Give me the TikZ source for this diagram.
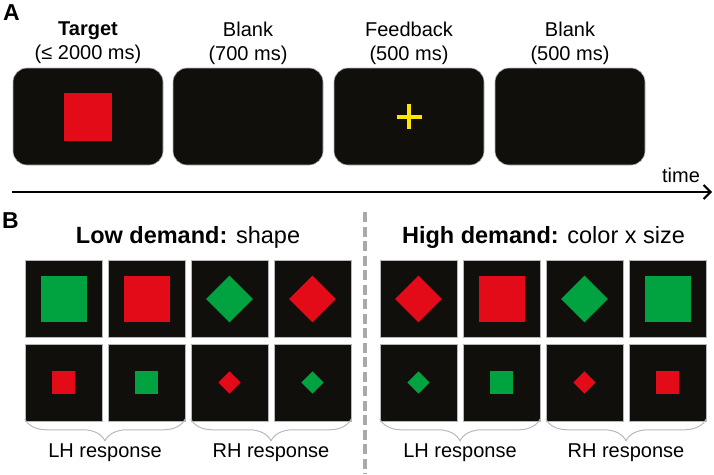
\documentclass[tikz,border=0pt]{standalone}
\usepackage{fontspec}
\setmainfont{Liberation Sans}
\usetikzlibrary{decorations.pathreplacing,arrows.meta}
\definecolor{scr}{HTML}{110F0C}
\definecolor{rd}{HTML}{E30B17}
\definecolor{gn}{HTML}{00A33F}
\definecolor{yl}{HTML}{FFE600}
\definecolor{edge}{HTML}{B8B8B8}
\definecolor{dsh}{HTML}{A9A9A9}
\tikzset{
  screen/.style={draw=edge, line width=0.6pt, fill=scr, rounded corners=14pt, minimum width=150pt, minimum height=97pt, inner sep=0pt},
  cell/.style={draw=edge, line width=0.6pt, fill=scr, minimum size=77pt, inner sep=0pt},
  bigsq/.style={minimum size=46pt, inner sep=0pt},
  smsq/.style={minimum size=23pt, inner sep=0pt},
  bigdia/.style={minimum size=33pt, inner sep=0pt, rotate=45},
  smdia/.style={minimum size=15.6pt, inner sep=0pt, rotate=45},
  lbl/.style={font=\fontsize{20}{24}\selectfont, align=center},
  panel/.style={font=\fontsize{23}{27}\selectfont\bfseries},
  ttl/.style={font=\fontsize{23.5}{27}\selectfont},
  brc/.style={draw=edge, line width=1pt, decorate, decoration={brace, mirror, amplitude=22pt}},
}
\begin{document}
\begin{tikzpicture}[x=1pt,y=-1pt]
\useasboundingbox (0,0) rectangle (714,474);
% Panel A
\node[panel] (A) at (11.5,12.5) {A};
\node[screen] (s1) at (88,116.5) {};
\node[screen] (s2) at (248,116.5) {};
\node[screen] (s3) at (409,116.5) {};
\node[screen] (s4) at (570,116.5) {};
\node[fill=rd, minimum size=48pt, inner sep=0pt] (tgt) at (s1.center) {};
\node[lbl] (l1) at (88,43) {\textbf{Target}\\(≤ 2000 ms)};
\node[lbl] (l2) at (248,43) {Blank\\(700 ms)};
\node[lbl] (l3) at (409,43) {Feedback\\(500 ms)};
\node[lbl] (l4) at (570,43) {Blank\\(500 ms)};
\draw[yl, line width=4pt] ([xshift=-12.5pt]s3.center) -- ([xshift=12.5pt]s3.center);
\draw[yl, line width=4pt] ([yshift=-12.5pt]s3.center) -- ([yshift=12.5pt]s3.center);
\coordinate (t0) at (12,192);
\coordinate (t1) at (712,192);
\draw[line width=2pt, -{Straight Barb[length=7pt,width=14pt,line width=2pt]}] (t0) -- (t1);
\node[font=\fontsize{20}{24}\selectfont] (time) at (681,175) {time};
% Panel B
\node[panel] (B) at (10.5,220.5) {B};
\node[ttl] (tl) at (188,237) {\textbf{Low demand:} shape};
\node[ttl] (th) at (543.5,237) {\textbf{High demand:} color x size};
\coordinate (d0) at (365,212);
\coordinate (d1) at (365,474);
\draw[dsh, line width=4pt, dash pattern=on 10pt off 4.5pt] (d0) -- (d1);
% left grid
\foreach \i/\x in {1/63.5,2/146.5,3/229.5,4/312.5} {
  \node[cell] (L\i) at (\x,299) {};
  \node[cell] (LL\i) at (\x,382.5) {};
}
\node[bigsq, fill=gn] at (L1.center) {};
\node[bigsq, fill=rd] at (L2.center) {};
\node[bigdia, fill=gn] at (L3.center) {};
\node[bigdia, fill=rd] at (L4.center) {};
\node[smsq, fill=rd] at (LL1.center) {};
\node[smsq, fill=gn] at (LL2.center) {};
\node[smdia, fill=rd] at (LL3.center) {};
\node[smdia, fill=gn] at (LL4.center) {};
% right grid
\foreach \i/\x in {1/418.5,2/501.5,3/584.5,4/667.5} {
  \node[cell] (R\i) at (\x,299) {};
  \node[cell] (RR\i) at (\x,382.5) {};
}
\node[bigdia, fill=rd] at (R1.center) {};
\node[bigsq, fill=rd] at (R2.center) {};
\node[bigdia, fill=gn] at (R3.center) {};
\node[bigsq, fill=gn] at (R4.center) {};
\node[smdia, fill=gn] at (RR1.center) {};
\node[smsq, fill=gn] at (RR2.center) {};
\node[smdia, fill=rd] at (RR3.center) {};
\node[smsq, fill=rd] at (RR4.center) {};
% braces
\draw[brc] ([yshift=2.5pt]LL1.south west) -- node[lbl, below=21pt] (b1) {LH response} ([yshift=2.5pt]LL2.south east);
\draw[brc] ([yshift=2.5pt]LL3.south west) -- node[lbl, below=21pt] (b2) {RH response} ([yshift=2.5pt]LL4.south east);
\draw[brc] ([yshift=2.5pt]RR1.south west) -- node[lbl, below=21pt] (b3) {LH response} ([yshift=2.5pt]RR2.south east);
\draw[brc] ([yshift=2.5pt]RR3.south west) -- node[lbl, below=21pt] (b4) {RH response} ([yshift=2.5pt]RR4.south east);
\end{tikzpicture}
\end{document}
